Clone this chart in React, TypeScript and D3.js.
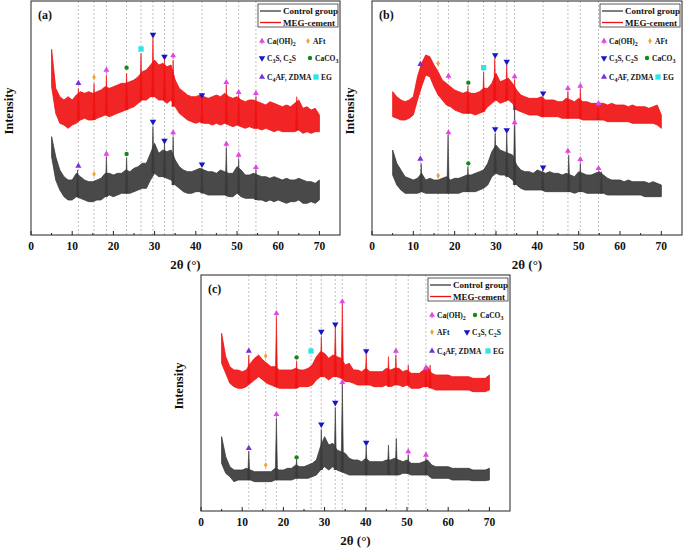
import React from 'react';
import * as d3 from 'd3';

// 2θ sampling grid of the envelopes (degrees)
const twoTheta = d3.range(5, 71, 1);

// ---- panel (a) : intensity envelopes (a.u.) ----
const redUpperA = [
  557, 440, 415, 405, 415, 405, 420, 430, 425, 430,
  425, 430, 435, 445, 440, 445, 450, 455, 455, 460,
  465, 475, 490, 495, 510, 525, 510, 515, 505, 510,
  465, 440, 430, 420, 415, 415, 420, 415, 410, 415,
  420, 415, 425, 415, 410, 415, 405, 400, 405, 405,
  400, 395, 390, 400, 395, 390, 385, 390, 385, 395,
  405, 380, 385, 375, 380, 360,
];
const redLowerA = [
  445, 365, 335, 330, 320, 330, 335, 345, 350, 345,
  345, 350, 355, 360, 355, 360, 365, 370, 375, 380,
  385, 395, 405, 405, 415, 415, 405, 405, 395, 405,
  385, 365, 355, 345, 340, 335, 340, 335, 335, 330,
  335, 330, 335, 330, 325, 330, 325, 320, 325, 320,
  320, 315, 320, 315, 310, 315, 310, 310, 310, 310,
  315, 305, 310, 305, 310, 310,
];
const blackUpperA = [
  295, 235, 195, 175, 165, 165, 185, 175, 165, 160,
  160, 165, 170, 185, 185, 180, 185, 185, 195, 190,
  200, 205, 215, 215, 245, 275, 245, 255, 250, 255,
  225, 205, 195, 190, 190, 195, 200, 195, 190, 190,
  185, 195, 190, 185, 185, 205, 195, 180, 180, 185,
  180, 175, 175, 170, 175, 170, 165, 170, 165, 165,
  170, 165, 160, 160, 155, 165,
];
const blackLowerA = [
  235, 165, 135, 115, 105, 105, 115, 110, 105, 100,
  100, 105, 105, 115, 120, 115, 120, 125, 125, 125,
  130, 135, 140, 140, 165, 185, 175, 175, 170, 165,
  150, 140, 130, 125, 125, 130, 130, 125, 120, 120,
  120, 120, 120, 115, 115, 125, 115, 110, 110, 110,
  105, 105, 100, 105, 100, 105, 100, 95, 100, 100,
  105, 95, 95, 100, 95, 105,
];
const redPeaksA: [number, number][] = [
  [11.5, 440], [15.3, 455], [18.3, 480], [23.2, 485], [26.7, 545], [29.6, 590],
  [32.4, 525], [34.5, 525], [41.5, 410], [47.4, 450], [50.4, 420], [54.6, 415], [64.5, 415],
];
const blackPeaksA: [number, number][] = [
  [11.3, 195], [18.3, 235], [23.2, 232], [29.6, 325], [32.4, 275], [34.5, 295],
  [41.5, 200], [47.4, 262], [50.4, 228], [54.6, 195],
];
// [phase, 2θ, marker height over MEG-cement, marker height over control]
const marksA: [string, number, number | null, number | null][] = [
  ['C4AF', 11.5, 455, 207], ['AFt', 15.3, 473, 183], ['CH', 18.3, 495, 243],
  ['CaCO3', 23.2, 502, 243], ['EG', 26.7, 558, null], ['C3S', 29.6, 601, 340],
  ['C3S', 32.4, 535, 283], ['CH', 34.5, 538, 307], ['C3S', 41.5, 420, 212],
  ['CH', 47.4, 458, 273], ['CH', 50.4, 428, 240], ['CH', 54.6, 425, 203],
];

// ---- panel (b) ----
const redUpperB = [
  430, 415, 405, 400, 405, 415, 475, 515, 540, 535,
  510, 490, 465, 455, 445, 435, 430, 425, 430, 425,
  425, 430, 440, 440, 455, 485, 460, 465, 470, 455,
  435, 420, 415, 410, 410, 410, 415, 405, 405, 405,
  400, 400, 410, 405, 400, 410, 400, 400, 395, 395,
  395, 395, 390, 395, 390, 390, 390, 385, 390, 385,
  385, 385, 380, 385, 390, 360,
];
const redLowerB = [
  355, 350, 345, 345, 350, 360, 405, 445, 480, 475,
  445, 420, 405, 390, 385, 375, 370, 365, 365, 365,
  360, 365, 370, 385, 395, 405, 395, 400, 405, 395,
  375, 370, 365, 360, 360, 360, 355, 355, 355, 355,
  355, 350, 350, 350, 350, 350, 345, 345, 345, 345,
  345, 345, 340, 340, 340, 340, 340, 340, 335, 335,
  335, 335, 335, 335, 330, 320,
];
const blackUpperB = [
  255, 215, 195, 175, 170, 165, 170, 185, 165, 170,
  165, 165, 170, 175, 165, 170, 170, 175, 180, 180,
  185, 190, 195, 215, 250, 270, 255, 250, 245, 240,
  210, 195, 190, 190, 185, 195, 190, 185, 190, 185,
  185, 180, 185, 180, 175, 190, 185, 180, 180, 185,
  190, 180, 170, 165, 165, 165, 160, 165, 160, 160,
  160, 160, 155, 160, 155, 150,
];
const blackLowerB = [
  180, 150, 135, 125, 125, 125, 125, 130, 125, 125,
  125, 125, 125, 125, 125, 125, 125, 130, 130, 130,
  130, 135, 140, 150, 175, 185, 180, 180, 175, 165,
  150, 140, 135, 135, 135, 135, 135, 130, 130, 130,
  130, 130, 130, 130, 125, 130, 130, 125, 125, 125,
  125, 125, 120, 120, 120, 120, 120, 120, 120, 120,
  120, 115, 115, 115, 115, 115,
];
const redPeaksB: [number, number][] = [
  [23.2, 447], [27.0, 490], [29.7, 530], [32.6, 510], [34.5, 465], [41.3, 415],
  [47.4, 430], [50.4, 438], [54.7, 388],
];
const blackPeaksB: [number, number][] = [
  [11.9, 215], [18.4, 300], [23.2, 205], [29.8, 305], [32.6, 305], [34.5, 385],
  [41.3, 195], [47.6, 240], [50.4, 215], [55.5, 190],
];
const marksB: [string, number, number | null, number | null][] = [
  ['C4AF', 11.7, 512, 228], ['AFt', 16.0, 515, 178], ['CH', 18.5, 477, 307],
  ['CaCO3', 23.3, 457, 215], ['EG', 27.0, 502, null], ['C3S', 29.8, 540, 318],
  ['C3S', 32.6, 520, 315], ['CH', 34.5, 475, 337], ['C3S', 41.4, 425, 203],
  ['CH', 47.4, 440, 252], ['CH', 50.4, 447, 227], ['CH', 54.8, 395, 200],
];

// ---- panel (c) ----
const redUpperC = [
  533, 463, 433, 423, 423, 418, 423, 443, 458, 468,
  453, 443, 433, 433, 423, 423, 423, 423, 428, 423,
  423, 428, 438, 463, 478, 473, 458, 468, 463, 458,
  438, 443, 423, 423, 418, 428, 418, 418, 418, 418,
  428, 423, 428, 428, 418, 423, 413, 413, 413, 423,
  433, 413, 408, 408, 408, 408, 403, 403, 403, 403,
  403, 398, 398, 398, 398, 408,
];
const redLowerC = [
  443, 413, 383, 373, 368, 368, 373, 383, 393, 403,
  393, 383, 378, 373, 368, 368, 368, 368, 368, 373,
  373, 373, 378, 393, 403, 403, 393, 403, 403, 398,
  388, 388, 383, 378, 378, 378, 378, 373, 373, 373,
  378, 373, 378, 378, 373, 378, 368, 368, 368, 373,
  373, 368, 363, 363, 363, 363, 363, 363, 363, 363,
  363, 358, 358, 358, 358, 363,
];
const blackUpperC = [
  223, 163, 133, 123, 123, 123, 128, 123, 118, 118,
  118, 118, 118, 128, 123, 123, 128, 128, 138, 133,
  133, 138, 143, 153, 193, 223, 198, 203, 183, 178,
  173, 158, 153, 153, 148, 158, 148, 148, 148, 148,
  153, 153, 158, 153, 148, 153, 143, 143, 143, 148,
  153, 138, 133, 133, 133, 133, 128, 128, 128, 128,
  128, 123, 123, 123, 123, 128,
];
const blackLowerC = [
  143, 113, 103, 88, 93, 93, 93, 93, 88, 88,
  88, 88, 88, 93, 93, 93, 93, 93, 98, 98,
  98, 98, 103, 108, 123, 133, 123, 133, 123, 118,
  113, 108, 108, 108, 108, 108, 108, 108, 108, 108,
  108, 108, 108, 108, 113, 113, 108, 108, 108, 108,
  108, 98, 98, 98, 98, 98, 93, 93, 93, 93,
  93, 91, 91, 91, 91, 93,
];
const redPeaksC: [number, number][] = [
  [11.6, 468], [18.3, 583], [23.2, 450], [29.2, 523], [32.6, 553], [34.3, 623],
  [40.1, 470], [45.5, 463], [47.3, 468], [50.3, 438], [54.6, 425], [55.6, 438],
];
const blackPeaksC: [number, number][] = [
  [11.6, 180], [18.3, 278], [23.2, 155], [29.2, 245], [32.6, 310], [34.3, 383],
  [40.1, 195], [45.5, 198], [47.4, 218], [50.3, 168], [54.6, 158],
];
const marksC: [string, number, number | null, number | null][] = [
  ['C4AF', 11.6, 480, 188], ['AFt', 15.7, 465, 138], ['CH', 18.3, 593, 290],
  ['CaCO3', 23.2, 461, 161], ['EG', 26.7, 480, null], ['C3S', 29.2, 538, 260],
  ['C3S', 32.6, 560, 325], ['CH', 34.3, 628, 386], ['C3S', 40.1, 480, 205],
  ['CH', 47.3, 480, null], ['CH', 50.3, null, 178], ['CH', 54.6, 430, 168],
];

const xTickValues = [0, 10, 20, 30, 40, 50, 60, 70];
const xMinorValues = [5, 15, 25, 35, 45, 55, 65];
const seriesNames = ['Control group', 'MEG-cement'];
const phaseNames: Record<string, string> = {
  CH: 'Ca(OH)_2',
  AFt: 'AFt',
  C3S: 'C_3S, C_2S',
  CaCO3: 'CaCO_3',
  C4AF: 'C_4AF, ZDMA',
  EG: 'EG',
};

const SERIF = 'Liberation Serif, Times New Roman, serif';
const RED = '#f01212';
const BLACK = '#3a3a3a';
const PHASE_COLOR: Record<string, string> = {
  CH: '#e048e0',
  AFt: '#f5a032',
  C3S: '#1616c8',
  CaCO3: '#168a16',
  C4AF: '#7a30d6',
  EG: '#30e4e4',
};

function Chem({ s, size }: { s: string; size: number }) {
  const parts = s.split(/_(\d)/);
  return (
    <>
      {parts.map((p, i) =>
        i % 2 === 1 ? (
          <tspan key={i} dy={size * 0.3} fontSize={size * 0.8}>{p}</tspan>
        ) : (
          <tspan key={i} dy={i > 0 ? -size * 0.3 : 0}>{p}</tspan>
        )
      )}
    </>
  );
}

function Marker({ kind, cx, cy }: { kind: string; cx: number; cy: number }) {
  const c = PHASE_COLOR[kind];
  if (kind === 'CH') {
    return (
      <g transform={`translate(${cx},${cy})`}>
        <path d={d3.symbol(d3.symbolTriangle, 15)() as string} fill={c} />
        <rect x={-0.5} y={1.2} width={1} height={2} fill={c} />
      </g>
    );
  }
  if (kind === 'C3S') {
    return <path transform={`translate(${cx},${cy}) rotate(180)`} d={d3.symbol(d3.symbolTriangle, 18)() as string} fill={c} />;
  }
  if (kind === 'C4AF') {
    return <path transform={`translate(${cx},${cy})`} d={d3.symbol(d3.symbolTriangle, 16)() as string} fill={c} />;
  }
  if (kind === 'AFt') {
    return <path transform={`translate(${cx},${cy})`} d={d3.symbol(d3.symbolDiamond, 11)() as string} fill={c} />;
  }
  if (kind === 'CaCO3') {
    return <path transform={`translate(${cx},${cy})`} d={d3.symbol(d3.symbolCircle, 15)() as string} fill={c} />;
  }
  return <path transform={`translate(${cx},${cy})`} d={d3.symbol(d3.symbolSquare, 28)() as string} fill={c} />;
}

interface PanelProps {
  label: string;
  left: number; right: number; top: number; bottom: number;
  yMax: number;
  red: [number[], number[], [number, number][]];
  black: [number[], number[], [number, number][]];
  marks: [string, number, number | null, number | null][];
  legend: [string, number, number][];
}

function Trace({ x, y, lower, upper, peaks, color }: any) {
  const area = d3.area<number>()
    .x((d) => x(d))
    .y0((_, i) => y(lower[i]))
    .y1((_, i) => y(upper[i]));
  const spike = d3.line<[number, number]>().x((d) => x(d[0])).y((d) => y(d[1]));
  return (
    <g>
      <path d={area(twoTheta) as string} fill={color} fillOpacity={0.92} stroke={color} strokeWidth={0.8} strokeLinejoin="bevel" />
      {peaks.map(([t, h]: [number, number], i: number) => {
        const base = lower[Math.round(t) - 5];
        return (
          <path key={i} d={spike([[t - 0.3, base], [t, h], [t + 0.3, base]]) as string}
            fill={color} stroke={color} strokeWidth={0.6} />
        );
      })}
    </g>
  );
}

function Panel(p: PanelProps) {
  const x = d3.scaleLinear().domain([0, 75]).range([p.left, p.right]);
  const y = d3.scaleLinear().domain([0, p.yMax]).range([p.bottom, p.top]);
  const refLines = Array.from(new Set(p.marks.map((m) => m[1])));
  const midY = (p.top + p.bottom) / 2;
  return (
    <g fontFamily={SERIF} fontWeight="bold">
      {refLines.map((t) => (
        <line key={t} x1={x(t)} x2={x(t)} y1={p.top} y2={p.bottom}
          stroke="#a8a8a8" strokeWidth={0.7} strokeDasharray="2,2" />
      ))}
      <Trace x={x} y={y} lower={p.red[1]} upper={p.red[0]} peaks={p.red[2]} color={RED} />
      <Trace x={x} y={y} lower={p.black[1]} upper={p.black[0]} peaks={p.black[2]} color={BLACK} />
      {p.marks.map(([k, t, r, b], i) => (
        <g key={i}>
          {r !== null && <Marker kind={k} cx={x(t)} cy={y(r)} />}
          {b !== null && <Marker kind={k} cx={x(t)} cy={y(b)} />}
        </g>
      ))}
      <rect x={p.left} y={p.top} width={p.right - p.left} height={p.bottom - p.top}
        fill="none" stroke="#222" strokeWidth={1} />
      {xTickValues.map((v) => (
        <g key={v}>
          <line x1={x(v)} x2={x(v)} y1={p.bottom} y2={p.bottom - 4} stroke="#222" />
          <text x={x(v)} y={p.bottom + 14.5} fontSize={11.5} textAnchor="middle" fill="#111">{v}</text>
        </g>
      ))}
      {xMinorValues.map((v) => (
        <line key={v} x1={x(v)} x2={x(v)} y1={p.bottom} y2={p.bottom - 2} stroke="#222" />
      ))}
      <text x={(p.left + p.right) / 2} y={p.bottom + 34} fontSize={13} textAnchor="middle" fill="#111">
        2θ (°)
      </text>
      <text transform={`translate(${p.left - 18},${midY - 7}) rotate(-90)`} fontSize={12.5}
        textAnchor="middle" fill="#111">Intensity</text>
      <text x={p.left + 7} y={p.top + 18} fontSize={12} fill="#111">{p.label}</text>
      {/* series legend */}
      <rect x={p.right - 82} y={p.top + 3} width={80} height={23} fill="white" stroke="#333" strokeWidth={0.8} />
      {seriesNames.map((n, i) => (
        <g key={n}>
          <line x1={p.right - 80} x2={p.right - 59} y1={p.top + 10 + i * 11.5} y2={p.top + 10 + i * 11.5}
            stroke={i === 0 ? BLACK : RED} strokeWidth={1.3} />
          <text x={p.right - 57} y={p.top + 13 + i * 11.5} fontSize={9} fill="#111">{n}</text>
        </g>
      ))}
      {/* phase legend */}
      {p.legend.map(([k, row, dx]) => {
        const ry = p.top + [40, 57, 76][row];
        return (
          <g key={k}>
            <Marker kind={k} cx={p.right + dx} cy={ry} />
            <text x={p.right + dx + 5} y={ry + 3} fontSize={7.5} fill="#111">
              <Chem s={phaseNames[k]} size={7.5} />
            </text>
          </g>
        );
      })}
    </g>
  );
}

export default function App() {
  return (
    <svg width={685} height={548} style={{ position: 'absolute', left: 0, top: 0, background: 'white' }}>
      <Panel label="(a)" left={31} right={340} top={1} bottom={235} yMax={702}
        red={[redUpperA, redLowerA, redPeaksA]} black={[blackUpperA, blackLowerA, blackPeaksA]}
        marks={marksA}
        legend={[['CH', 0, -78], ['AFt', 0, -32], ['C3S', 1, -78], ['CaCO3', 1, -30], ['C4AF', 2, -78], ['EG', 2, -24]]} />
      <Panel label="(b)" left={372} right={682} top={1} bottom={235} yMax={702}
        red={[redUpperB, redLowerB, redPeaksB]} black={[blackUpperB, blackLowerB, blackPeaksB]}
        marks={marksB}
        legend={[['CH', 0, -78], ['AFt', 0, -32], ['C3S', 1, -78], ['CaCO3', 1, -35], ['C4AF', 2, -78], ['EG', 2, -24]]} />
      <Panel label="(c)" left={201} right={510} top={275} bottom={511} yMax={708}
        red={[redUpperC, redLowerC, redPeaksC]} black={[blackUpperC, blackLowerC, blackPeaksC]}
        marks={marksC}
        legend={[['CH', 0, -78], ['CaCO3', 0, -35], ['AFt', 1, -78], ['C3S', 1, -43], ['C4AF', 2, -78], ['EG', 2, -22]]} />
    </svg>
  );
}
